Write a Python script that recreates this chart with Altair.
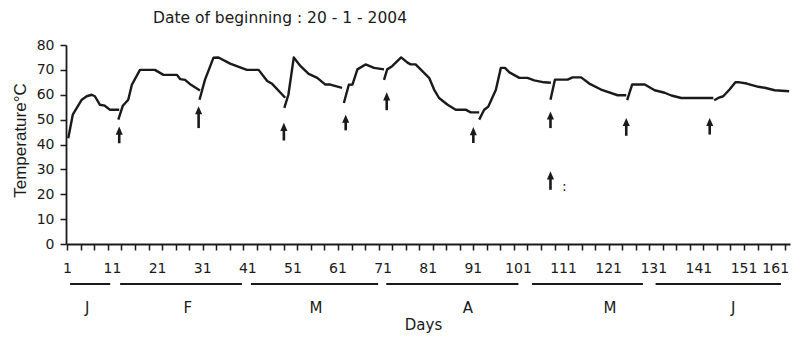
import altair as alt
import pandas as pd

# ---------------- data ----------------
segment_days = [
    [1.2, 2.2, 4.2, 5.3, 6.4, 7.1, 8.2, 9.3, 10.4, 12.5],
    [12.3, 13.3, 14.5, 15.3, 17.1, 20.4, 22.3, 25.3, 26.0, 27.1, 28.4, 30.4],
    [30.3, 31.5, 33.4, 34.5, 37.1, 39.3, 40.8, 43.4, 45.3, 46.4, 49.3],
    [49.1, 50.0, 51.2, 52.7, 54.5, 56.4, 58.2, 59.3, 61.9],
    [62.3, 63.4, 64.2, 65.3, 67.1, 69.0, 71.2],
    [71.2, 71.9, 73.0, 75.0, 76.4, 77.1, 78.2, 81.2, 82.3, 83.4, 85.3, 87.1, 89.3, 90.4, 92.3],
    [92.3, 93.4, 94.3, 96.0, 97.1, 98.0, 99.0, 101.2, 103.0, 104.5, 106.7, 108.2],
    [108.1, 109.1, 111.9, 113.0, 114.9, 116.7, 119.3, 123.0, 124.9],
    [125.1, 126.2, 129.0, 131.2, 133.4, 134.9, 137.1, 144.2],
    [144.4, 145.3, 146.4, 147.8, 149.1, 150.0, 151.6, 154.2, 155.6, 157.8, 161.0],
]
segment_temps = [
    [42.5, 52, 58, 59.4, 60, 59.4, 56, 55.6, 54, 54],
    [50, 55.6, 58, 64, 70, 70, 68, 68, 66.3, 66, 64, 61.7],
    [58, 66, 74.9, 75, 72.5, 71, 70, 70, 65.5, 64.4, 58.8],
    [54.7, 60, 75, 71.5, 68.4, 66.8, 64.1, 64.1, 62.8],
    [56.7, 64, 64.1, 70.2, 72.2, 70.8, 70.2],
    [66, 70.2, 71.5, 75, 72.9, 72.2, 72.2, 66.8, 62.1, 58.7, 56, 54, 54, 52.9, 52.9],
    [50, 54, 55.2, 62, 70.8, 70.8, 69, 66.8, 66.8, 65.8, 65, 64.8],
    [58, 66.1, 66.1, 67, 67, 64.5, 62.1, 59.8, 59.8],
    [57.8, 64.1, 64.1, 61.8, 60.8, 59.7, 58.7, 58.7],
    [57.8, 58.7, 59.4, 62.1, 65, 65, 64.5, 63.2, 62.8, 61.8, 61.4],
]

arrow_days = [12.5, 30.1, 49.0, 62.7, 71.8, 91.0, 108.1, 124.9, 143.4, 108.1]
arrow_tips = [47.2, 55.4, 48.7, 52.0, 61.0, 47.0, 53.3, 50.7, 50.7, 29.2]
arrow_tails = [40.5, 46.6, 41.6, 45.7, 53.8, 40.6, 46.6, 43.5, 44.0, 21.8]

legend_colon_day = [111.2]
legend_colon_temp = [23.0]

tick_days = list(range(1, 161, 3))
y_ticks = [0, 10, 20, 30, 40, 50, 60, 70, 80]
label_days = [1, 11, 21, 31, 41, 51, 61, 71, 81, 91, 101, 111, 121, 131, 141, 151]
last_label_day = [161]

month_names = ["J", "F", "M", "A", "M", "J"]
month_starts = [1.6, 12.7, 41.7, 71.7, 104.0, 131.4]
month_ends = [10.5, 39.7, 69.9, 101.0, 128.6, 159.2]
month_label_days = [5.4, 27.7, 56.1, 89.8, 121.3, 148.6]

title_text = "Date of beginning : 20 - 1 - 2004"

# ---------------- tables ----------------
line_df = pd.DataFrame([
    {"day": d, "temp": t, "seg": i, "ord": j}
    for i, (ds, ts) in enumerate(zip(segment_days, segment_temps))
    for j, (d, t) in enumerate(zip(ds, ts))
])
arrow_df = pd.DataFrame({"day": arrow_days, "tip": arrow_tips, "tail": arrow_tails})
arrow_df["shaft_top"] = arrow_df["tip"] - 1.5
colon_df = pd.DataFrame({"day": legend_colon_day, "temp": legend_colon_temp, "t": [":"]})
label_df = pd.DataFrame({"day": label_days, "label": [str(v) for v in label_days]})
last_df = pd.DataFrame({"day": last_label_day, "label": [str(v) for v in last_label_day]})
month_df = pd.DataFrame({"day": month_starts, "end": month_ends})
month_lab_df = pd.DataFrame({"day": month_label_days, "name": month_names})
title_df = pd.DataFrame({"t": [title_text]})

FONT = "DejaVu Sans"
INK = "#1a1a1a"
W, H = 724, 199

x_scale = alt.Scale(domain=[0.7, 161.2], nice=False, zero=False)
y_scale = alt.Scale(domain=[0, 80], nice=False, zero=True)

x_axis = alt.Axis(
    values=tick_days, labels=False, tickSize=6, tickWidth=1.5, tickColor=INK,
    domainColor=INK, domainWidth=1.8, grid=False,
    title="Days", titleFont=FONT, titleFontSize=15, titleFontWeight="normal",
    titleColor=INK, titleX=357, titleY=80, titleAlign="center", titleBaseline="middle",
)
y_axis = alt.Axis(
    values=y_ticks, tickSize=6, tickWidth=1.5, tickColor=INK,
    domainColor=INK, domainWidth=1.8, grid=False,
    labelFont=FONT, labelFontSize=14, labelColor=INK, labelPadding=6,
    title="Temperature°C", titleFont="Liberation Sans", titleFontSize=17,
    titleFontWeight="normal", titleColor=INK, titleAngle=270,
    titleX=-46, titleY=95, titleAlign="center", titleBaseline="middle",
)


def X(field="day"):
    return alt.X(f"{field}:Q", scale=x_scale, axis=x_axis, title="Days")


def Y(field):
    return alt.Y(f"{field}:Q", scale=y_scale, axis=y_axis, title="Temperature°C")


line = alt.Chart(line_df).mark_line(color=INK, strokeWidth=2.4, strokeJoin="round").encode(
    x=X(), y=Y("temp"), detail="seg:N", order="ord:Q",
)
shafts = alt.Chart(arrow_df).mark_rule(color=INK, strokeWidth=2.6).encode(
    x=X(), y=Y("tail"), y2="shaft_top:Q",
)
heads = alt.Chart(arrow_df).mark_point(
    shape="M0,0L-0.5,1.15L0.5,1.15Z", filled=True, size=200, color=INK,
    opacity=1, strokeWidth=0,
).encode(x=X(), y=Y("tip"))
colon = alt.Chart(colon_df).mark_text(font=FONT, fontSize=14, color=INK, baseline="middle").encode(
    x=X(), y=Y("temp"), text="t:N",
)
xlabels = alt.Chart(label_df).mark_text(font=FONT, fontSize=14, color=INK, baseline="middle").encode(
    x=X(), y=alt.value(224), text="label:N",
)
xlabel_last = alt.Chart(last_df).mark_text(font=FONT, fontSize=14, color=INK, baseline="middle", align="right").encode(
    x=X(), y=alt.value(224), text="label:N",
)
month_rules = alt.Chart(month_df).mark_rule(color=INK, strokeWidth=2).encode(
    x=X(), x2="end:Q", y=alt.value(239),
)
month_text = alt.Chart(month_lab_df).mark_text(font=FONT, fontSize=15, color=INK, baseline="middle").encode(
    x=X(), y=alt.value(263), text="name:N",
)
title = alt.Chart(title_df).mark_text(font=FONT, fontSize=15.5, color=INK, baseline="middle", align="center").encode(
    x=alt.value(214), y=alt.value(-27), text="t:N",
)

chart = alt.layer(
    line, shafts, heads, colon, xlabels, xlabel_last, month_rules, month_text, title
).properties(
    width=W, height=H,
    autosize=alt.AutoSizeParams(type="none"),
    padding={"left": 66, "top": 45, "right": 11, "bottom": 96},
    background="white",
).configure_view(stroke=None)

chart.save("out.html", embed_options={"renderer": "svg", "actions": False})
